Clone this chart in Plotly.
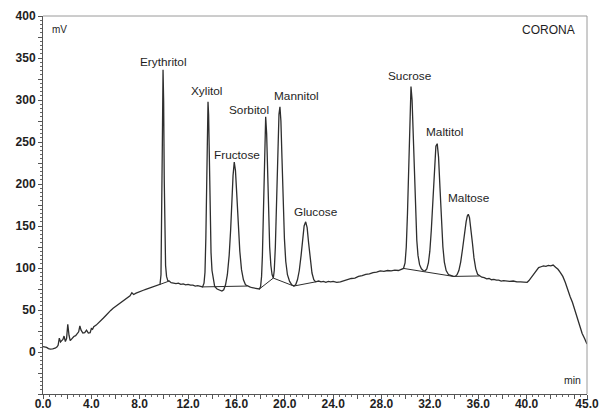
import plotly.graph_objects as go

# ---------------- data ----------------
ret_time = [
    0.00, 0.15, 0.30, 0.45, 0.60, 0.80, 1.00, 1.15, 1.25, 1.35, 1.45, 1.55, 1.65, 1.74, 1.85, 1.95,
    2.05, 2.15, 2.25, 2.40, 2.55, 2.70, 2.85, 2.95, 3.05, 3.15, 3.30, 3.45, 3.60, 3.75, 3.90, 4.00,
    4.10, 4.20, 4.40, 4.60, 4.80, 5.00, 5.20, 5.40, 5.60, 5.80, 6.00, 6.20, 6.40, 6.60, 6.80, 7.00,
    7.20, 7.35, 7.50, 7.70, 7.90, 8.10, 8.30, 8.50, 8.70, 8.90, 9.10, 9.30, 9.50, 9.68,
    9.76, 9.82, 9.87, 9.93, 9.98, 10.03, 10.08, 10.14, 10.22, 10.32, 10.44,
    10.60, 10.80, 11.00, 11.20, 11.40, 11.60, 11.80, 12.00, 12.20, 12.40, 12.60, 12.80, 13.00, 13.20,
    13.32, 13.40, 13.47, 13.54, 13.60, 13.65, 13.70, 13.76, 13.83, 13.90, 13.98, 14.08, 14.20, 14.40,
    14.60, 14.80,
    14.95, 15.10, 15.25, 15.40, 15.52, 15.62, 15.72, 15.82, 15.92, 16.02, 16.14, 16.28, 16.42, 16.58,
    16.75, 16.90, 17.10, 17.30, 17.50, 17.70, 17.90,
    18.00, 18.08, 18.15, 18.23, 18.32, 18.42, 18.50, 18.58, 18.66, 18.75, 18.85, 18.95, 19.05,
    19.13, 19.22, 19.32, 19.42, 19.52, 19.60, 19.68, 19.77, 19.87, 19.97, 20.08, 20.22, 20.40, 20.58, 20.75,
    20.90, 21.05, 21.20, 21.35, 21.48, 21.60, 21.73, 21.85, 21.97, 22.10, 22.25, 22.40, 22.55,
    22.80, 23.00, 23.20, 23.40, 23.60, 23.80, 24.00, 24.30, 24.60, 24.90, 25.20, 25.50, 25.80, 26.10,
    26.40, 26.70, 27.00, 27.30, 27.60, 27.90, 28.20, 28.50, 28.80, 29.10, 29.40, 29.65, 29.82,
    29.95, 30.05, 30.15, 30.25, 30.35, 30.44, 30.53, 30.62, 30.72, 30.82, 30.92, 31.02, 31.15, 31.30,
    31.45, 31.60,
    31.75, 31.88, 32.00, 32.12, 32.25, 32.38, 32.50, 32.61, 32.72, 32.84, 32.96, 33.08, 33.20, 33.35,
    33.55, 33.75, 33.95,
    34.10, 34.25, 34.40, 34.55, 34.70, 34.85, 35.00, 35.10, 35.18, 35.28, 35.40, 35.52, 35.65, 35.80,
    35.95, 36.10, 36.30, 36.50, 36.70, 36.90, 37.10, 37.30, 37.50, 37.70, 37.90, 38.10, 38.30, 38.60,
    38.90, 39.20, 39.50, 39.80, 40.05,
    40.20, 40.40, 40.60, 40.80, 41.00, 41.20, 41.40, 41.60, 41.80, 42.00, 42.20, 42.40, 42.60, 42.80,
    43.00, 43.20, 43.40, 43.60, 43.80, 44.00, 44.20, 44.40, 44.60, 44.80, 44.90, 45.00,
]
signal_mv = [
    6.5, 6.0, 5.5, 4.0, 3.5, 3.8, 4.5, 6.0, 8.0, 16.5, 12.0, 13.5, 15.0, 19.0, 12.5, 16.0,
    33.0, 20.0, 13.5, 16.0, 18.5, 19.5, 21.5, 24.0, 31.0, 26.0, 22.5, 23.0, 26.0, 22.5, 23.0, 28.0,
    27.0, 30.0, 32.0, 34.5, 37.0, 40.5, 43.5, 47.0, 49.5, 52.0, 54.0, 56.5, 59.0, 61.0, 62.5, 64.5,
    67.0, 70.5, 68.5, 70.0, 71.5, 72.5, 73.5, 74.5, 75.5, 76.5, 77.5, 78.5, 79.0, 80.5,
    92, 145, 245, 336, 298, 205, 135, 103, 90, 85, 84.5,
    82.5, 82.0, 81.5, 82.0, 80.5, 81.0, 80.0, 80.5, 79.5, 79.5, 78.5, 79.0, 78.0, 77.5,
    82, 95, 135, 205, 268, 298, 282, 225, 160, 118, 97, 85, 78, 75,
    73.5, 72.5,
    74, 80, 92, 115, 145, 180, 210, 226, 216, 190, 155, 120, 98, 86,
    80, 78.5, 77.5, 76.5, 76.0, 75.5, 75.0,
    78, 90, 115, 170, 240, 280, 260, 210, 160, 125, 103, 92, 88,
    97, 125, 180, 245, 283, 292, 275, 230, 175, 135, 108, 92, 84, 80, 78.5,
    80, 86, 97, 115, 135, 150, 155, 148, 130, 110, 94, 86, 83.5,
    84.5, 83.5, 84.0, 83.0, 84.0, 83.5, 84.0, 83.0, 83.5, 85.0, 86.0, 87.5, 88.0, 90.0,
    91.0, 92.5, 93.0, 94.5, 95.0, 96.5, 96.0, 97.0, 96.5, 97.5, 97.0, 98.5, 99.5,
    106, 125, 165, 225, 285, 316, 300, 260, 210, 165, 133, 115, 104, 99,
    97, 96.5,
    99, 106, 120, 145, 185, 225, 245, 248, 232, 195, 155, 125, 107, 97,
    92, 90.5, 90,
    90, 92, 97, 107, 122, 140, 155, 162, 164, 160, 148, 130, 112, 99,
    92.5, 90.5, 89, 88.5, 87.0, 87.5, 86.0, 86.5, 85.5, 85.5, 84.5, 85.0, 84.5, 84.0,
    84.5, 83.5, 83.5, 83.0, 83.0,
    85, 89, 94, 98, 100.5, 101.5, 102.5, 102.0, 103.0, 102.5, 103.5, 101.0, 98.5, 94.5,
    90, 83, 74, 66, 59, 50, 40, 30, 22, 16, 13, 9.5,
]

# integration baselines drawn under the peaks (start / end of each)
base_start_t = [9.68, 13.20, 17.90, 19.05, 20.75, 29.82, 34.10]
base_start_mv = [80.5, 77.5, 75.0, 88.0, 78.5, 99.5, 90.0]
base_end_t = [10.44, 16.90, 19.05, 20.75, 22.55, 33.95, 36.10]
base_end_mv = [84.5, 78.5, 88.0, 78.5, 83.5, 90.0, 90.5]

peak_names = ["Erythritol", "Xylitol", "Fructose", "Sorbitol", "Mannitol",
              "Glucose", "Sucrose", "Maltitol", "Maltose"]
peak_times = [9.93, 13.65, 15.82, 18.42, 19.60, 21.73, 30.44, 32.61, 35.18]
peak_heights = [336, 298, 226, 280, 292, 155, 316, 248, 164]

x_tickvals = [0, 2, 4, 6, 8, 10, 12, 14, 16, 18, 20, 22, 24, 26, 28, 30, 32, 34, 36, 38, 40, 42, 44, 45]
x_ticktext = ["0.0", "", "4.0", "", "8.0", "", "12.0", "", "16.0", "", "20.0", "", "24.0", "",
              "28.0", "", "32.0", "", "36.0", "", "40.0", "", "", "45.0"]
y_tickvals = [-50, -25, 0, 25, 50, 75, 100, 125, 150, 175, 200, 225, 250, 275, 300, 325, 350, 375, 400]
y_ticktext = ["", "", "0", "", "50", "", "100", "", "150", "", "200", "", "250", "", "300", "",
              "350", "", "400"]

# ---------------- figure ----------------
LINE = "#2e2e2e"
TXT = "#1e1e1e"
FONT = "Liberation Sans, Arial, sans-serif"

bx, by = [], []
for t0, v0, t1, v1 in zip(base_start_t, base_start_mv, base_end_t, base_end_mv):
    bx += [t0, t1, None]
    by += [v0, v1, None]

fig = go.Figure()
fig.add_trace(go.Scatter(x=bx, y=by, mode="lines",
                         line=dict(color=LINE, width=1), hoverinfo="skip", showlegend=False))
fig.add_trace(go.Scatter(x=ret_time, y=signal_mv, mode="lines",
                         line=dict(color=LINE, width=1.3), showlegend=False))

# peak labels, offset in pixels from the apex
label_dx = [0, -2, 3, -17, 17, 10, -1, 7, 1]
label_dy = [8, 11, 7, 7, 11, 10, 11, 12, 16]
for name, t, h, dx, dy in zip(peak_names, peak_times, peak_heights, label_dx, label_dy):
    fig.add_annotation(x=t, y=h, text=name, showarrow=False, xshift=dx, yshift=dy,
                       xanchor="center", yanchor="middle",
                       font=dict(family=FONT, size=11.8, color=TXT))

fig.add_annotation(xref="paper", yref="paper", x=0.013, y=0.965, text="mV", showarrow=False,
                   xanchor="left", yanchor="middle", font=dict(family=FONT, size=10, color=TXT))
fig.add_annotation(xref="paper", yref="paper", x=0.930, y=0.963, text="CORONA", showarrow=False,
                   xanchor="center", yanchor="middle", font=dict(family=FONT, size=12, color=TXT))
fig.add_annotation(xref="paper", yref="paper", x=0.974, y=0.037, text="min", showarrow=False,
                   xanchor="center", yanchor="middle", font=dict(family=FONT, size=10.5, color=TXT))

# lighter top / right frame
fig.add_shape(type="line", xref="paper", yref="paper", x0=0, x1=1, y0=1, y1=1,
              line=dict(color="#9a9a9a", width=1))
fig.add_shape(type="line", xref="paper", yref="paper", x0=1, x1=1, y0=0, y1=1,
              line=dict(color="#9a9a9a", width=1))

axis_common = dict(showgrid=False, zeroline=False, showline=True, linecolor="#555555", linewidth=1,
                   ticks="outside", tickcolor="#555555", ticklen=4, tickwidth=1,
                   automargin=False, ticklabeloverflow="allow",
                   tickfont=dict(family=FONT, size=12, color=TXT, weight="bold"))

fig.update_xaxes(range=[0, 45], tickmode="array", tickvals=x_tickvals, ticktext=x_ticktext,
                 minor=dict(dtick=0.5, ticklen=2, tickcolor="#666666", ticks="outside"),
                 ticklabelstandoff=-5, **axis_common)
fig.update_yaxes(range=[-50, 400], tickmode="array", tickvals=y_tickvals, ticktext=y_ticktext,
                 minor=dict(dtick=5, ticklen=2, tickcolor="#666666", ticks="outside"),
                 **axis_common)

fig.update_layout(width=599, height=412, margin=dict(l=43, r=12, t=16, b=18),
                  plot_bgcolor="white", paper_bgcolor="white",
                  font=dict(family=FONT, color=TXT))

fig.write_html("out.html")
